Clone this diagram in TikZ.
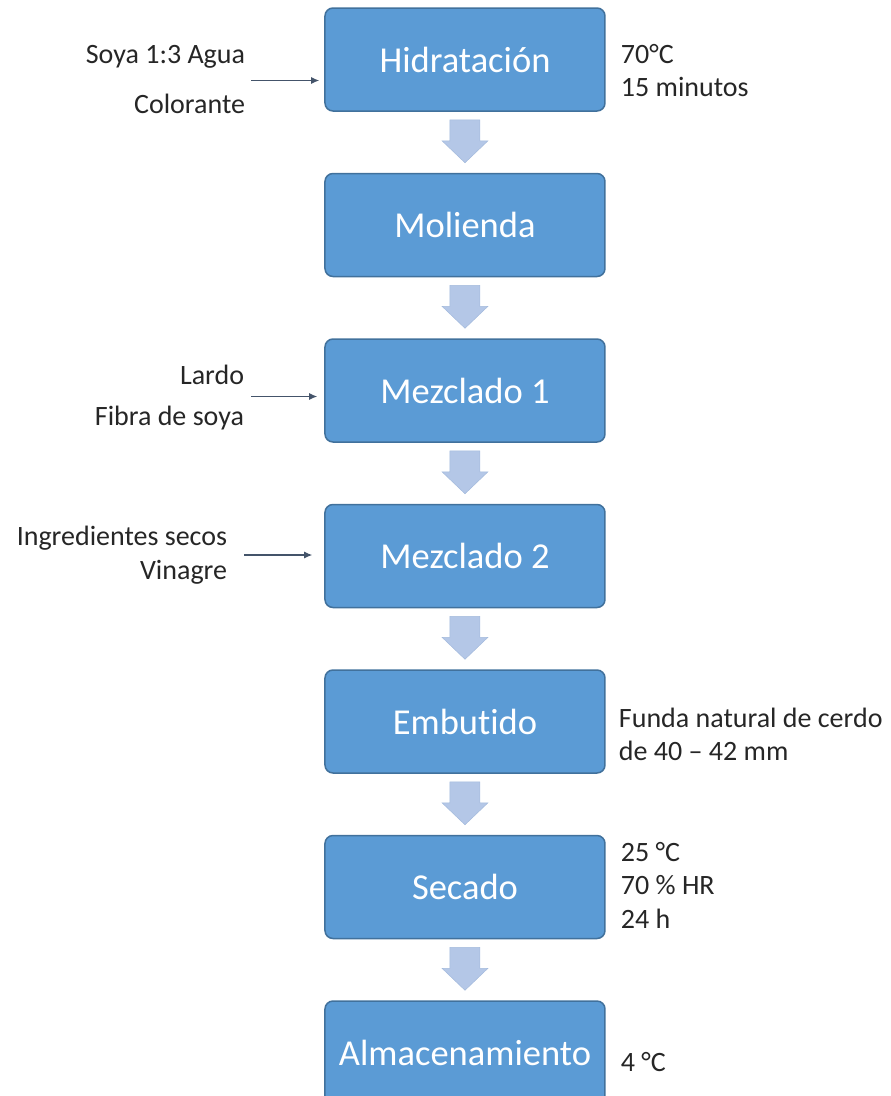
\documentclass[tikz,border=0pt]{standalone}
\usepackage{fontspec}
\setmainfont{Carlito}[Ligatures=NoCommon]
\usetikzlibrary{positioning,calc,arrows.meta}
\usepackage{xcolor}
\definecolor{Caja}{HTML}{5B9BD5}
\definecolor{Borde}{HTML}{41719C}
\definecolor{Flecha}{HTML}{B4C7E7}
\definecolor{Linea}{HTML}{44546A}
\definecolor{Texto}{HTML}{262626}

\begin{document}
\begin{tikzpicture}[
      node distance=61pt,
      every node/.style={font=\fontsize{28}{33.5}\selectfont, text=Texto},
      paso/.style={draw=Borde, line width=1.5pt, fill=Caja, rounded corners=8pt, minimum width=280pt, minimum height=103pt, text=white, font=\fontsize{36.5}{40}\selectfont},
      nota/.style={inner sep=0pt},
      entrada/.style={-{Latex[length=8pt,width=7pt]}, line width=1.2pt, draw=Linea, shorten >=5pt},
      bloque/.style={fill=Flecha, draw=Flecha!85!Borde, line width=0.5pt}
    ]
    \useasboundingbox (-465pt,59.5pt) rectangle (426pt,-1036.5pt);
    \node[paso] (hid) at (0,0) {Hidratación};
    \node[paso, below=of hid] (mol) {Molienda};
    \node[paso, below=of mol] (mez1) {Mezclado 1};
    \node[paso, below=of mez1] (mez2) {Mezclado 2};
    \node[paso, below=of mez2] (emb) {Embutido};
    \node[paso, below=of emb] (sec) {Secado};
    \node[paso, below=of sec] (alm) {Almacenamiento};

    \foreach \desde/\hasta in {hid/mol, mol/mez1, mez1/mez2, mez2/emb, emb/sec, sec/alm}
      \draw[bloque] ($(\desde.south)+(-15pt,-8pt)$) -- ($(\desde.south)+(15pt,-8pt)$)
        -- ($(\hasta.north)+(15pt,32pt)$) -- ($(\hasta.north)+(23pt,32pt)$)
        -- ($(\hasta.north)+(0,10pt)$) -- ($(\hasta.north)+(-23pt,32pt)$)
        -- ($(\hasta.north)+(-15pt,32pt)$) -- cycle;

    \coordinate (e1) at ($(hid.west)+(-73pt,-21pt)$);
    \coordinate (e3) at ($(mez1.west)+(-73pt,-6pt)$);
    \coordinate (e4) at ($(mez2.west)+(-80pt,1pt)$);
    \draw[entrada] (e1) -- (e1 -| hid.west);
    \draw[entrada, shorten >=7pt] (e3) -- (e3 -| mez1.west);
    \draw[entrada, shorten >=12pt] (e4) -- (e4 -| mez2.west);

    \node[nota, left=6pt of e1, yshift=1pt, align=right] (izq1) {Soya 1:3 Agua\\[16pt]Colorante};
    \node[nota, left=7pt of e3, yshift=-1pt, align=right] (izq3) {Lardo\\[8pt]Fibra de soya};
    \node[nota, left=17pt of e4, align=right] (izq4) {Ingredientes secos\\Vinagre};

    \node[nota, right=15pt of hid.east, yshift=-11pt, align=left] (der1) {70°C\\15 minutos};
    \node[nota, right=13pt of emb.east, yshift=-13pt, align=left] (der5) {Funda natural de cerdo\\de 40 – 42 mm};
    \node[nota, right=15pt of sec.east, yshift=2pt, align=left] (der6) {25 °C\\70 \% HR\\24 h};
    \node[nota, right=15pt of alm.east, yshift=-10pt, align=left] (der7) {4 °C};
  \end{tikzpicture}
\end{document}
